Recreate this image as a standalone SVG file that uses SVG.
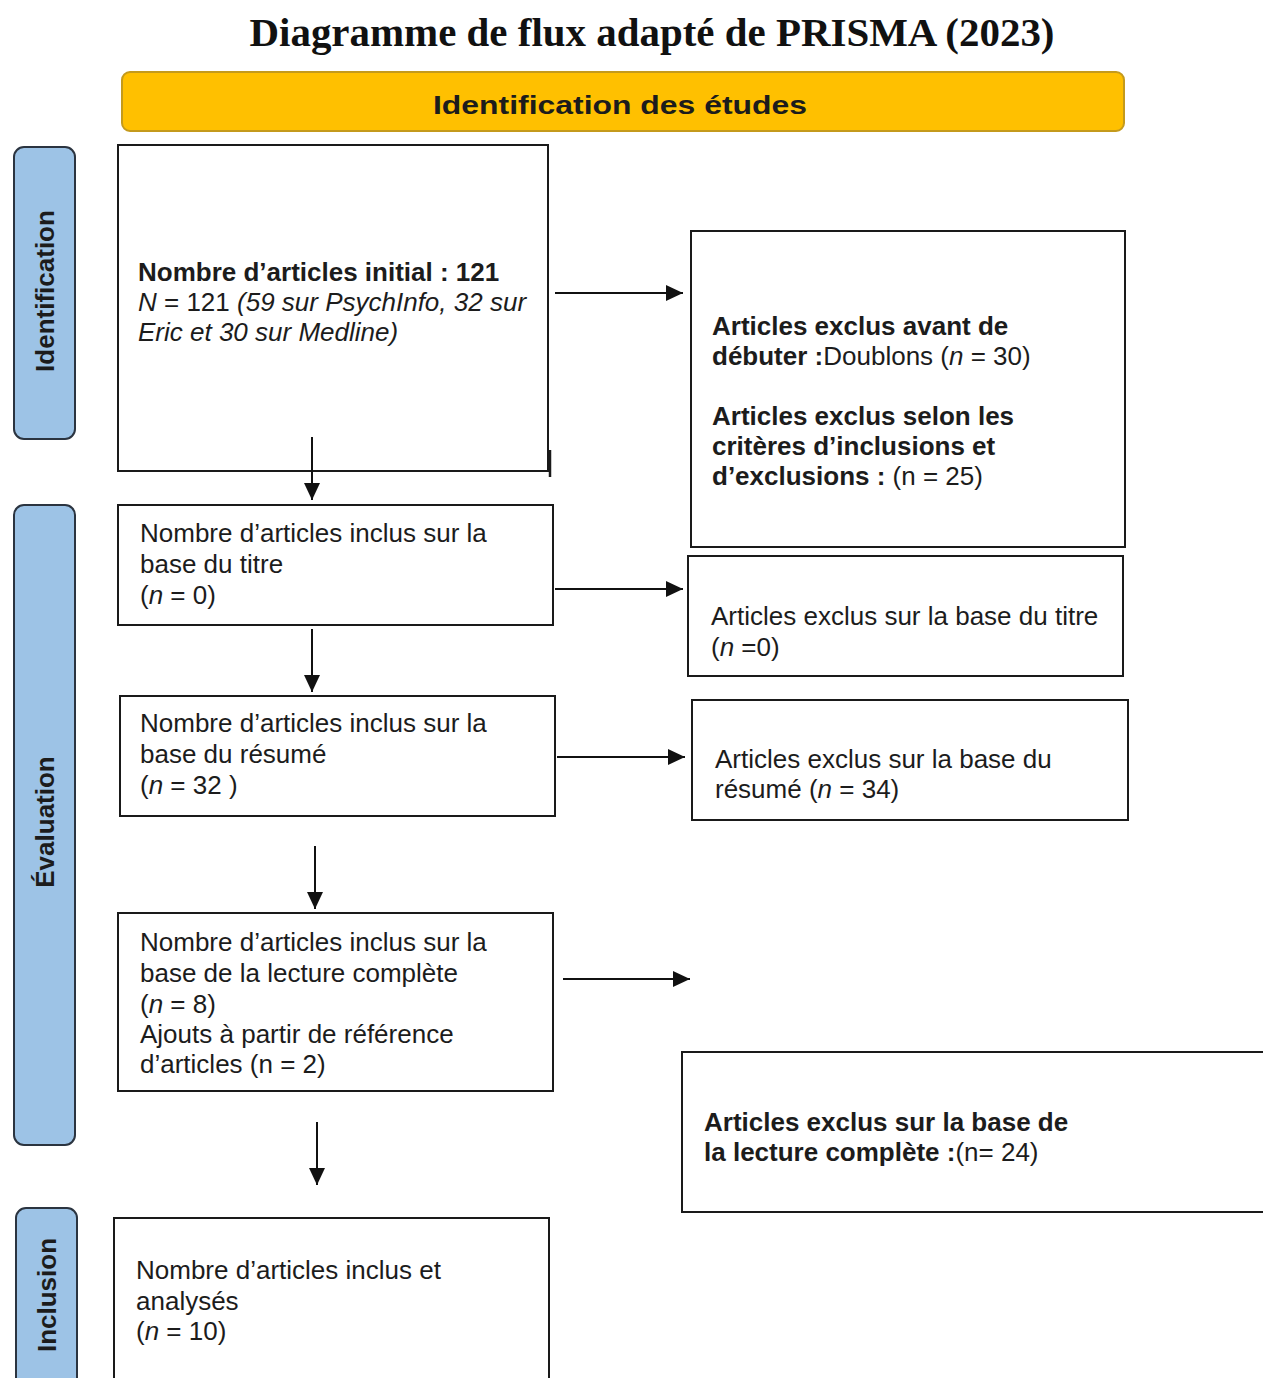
<svg xmlns="http://www.w3.org/2000/svg" width="1263" height="1378" viewBox="0 0 1263 1378">
<style>
  .t{font-family:"Liberation Sans",Arial,sans-serif;font-size:26px;fill:#1c1c1c}
  .b{font-weight:bold}
  .i{font-style:italic}
  .box{fill:#fff;stroke:#1a1a1a;stroke-width:2}
  .side{fill:#9DC3E6;stroke:#2b3440;stroke-width:2}
  .sidet{font-family:"Liberation Sans",Arial,sans-serif;font-size:26px;font-weight:bold;fill:#1c1c1c;text-anchor:middle}
  .conn line{stroke:#111;stroke-width:2;marker-end:url(#ah)}
</style>
<defs>
  <marker id="ah" markerUnits="userSpaceOnUse" markerWidth="18" markerHeight="16" refX="17" refY="8" orient="auto">
    <path d="M0,0 L17,8 L0,16 z" fill="#111"/>
  </marker>
</defs>
<rect width="1263" height="1378" fill="#fff"/>

<g id="title">
  <text x="652" y="46" text-anchor="middle" font-family="'Liberation Serif','Times New Roman',serif" font-weight="bold" font-size="40" fill="#111" textLength="805" lengthAdjust="spacingAndGlyphs">Diagramme de flux adapté de PRISMA (2023)</text>
</g>

<g id="banner">
  <rect x="122" y="72" width="1002" height="59" rx="8" fill="#FFC000" stroke="#C49A1C" stroke-width="2"/>
  <text x="620" y="114" text-anchor="middle" class="t b" font-size="28" fill="#111" textLength="374" lengthAdjust="spacingAndGlyphs">Identification des études</text>
</g>

<g id="lbl-identification">
  <rect class="side" x="14" y="147" width="61" height="292" rx="10"/>
  <text class="sidet" transform="translate(54,291) rotate(-90)">Identification</text>
</g>
<g id="lbl-evaluation">
  <rect class="side" x="14" y="505" width="61" height="640" rx="10"/>
  <text class="sidet" transform="translate(54,822) rotate(-90)">Évaluation</text>
</g>
<g id="lbl-inclusion">
  <rect class="side" x="16" y="1208" width="61" height="190" rx="10"/>
  <text class="sidet" transform="translate(56,1295) rotate(-90)">Inclusion</text>
</g>

<g id="box-initial">
  <rect class="box" x="118" y="145" width="430" height="326"/>
  <line x1="550" y1="450" x2="550" y2="477" stroke="#1a1a1a" stroke-width="2.5"/>
  <text class="t b" x="138" y="281">Nombre d’articles initial : 121</text>
  <text class="t" x="138" y="311"><tspan class="i">N</tspan> = 121 <tspan class="i">(59 sur PsychInfo, 32 sur</tspan></text>
  <text class="t i" x="138" y="341">Eric et 30 sur Medline)</text>
</g>

<g id="box-exclus-avant">
  <rect class="box" x="691" y="231" width="434" height="316"/>
  <text class="t b" x="712" y="335">Articles exclus avant de</text>
  <text class="t" x="712" y="365"><tspan class="b">débuter :</tspan>Doublons (<tspan class="i">n</tspan> = 30)</text>
  <text class="t b" x="712" y="425">Articles exclus selon les</text>
  <text class="t b" x="712" y="455">critères d’inclusions et</text>
  <text class="t" x="712" y="485"><tspan class="b">d’exclusions : </tspan>(n = 25)</text>
</g>

<g id="box-titre">
  <rect class="box" x="118" y="505" width="435" height="120"/>
  <text class="t" x="140" y="542">Nombre d’articles inclus sur la</text>
  <text class="t" x="140" y="573">base du titre</text>
  <text class="t" x="140" y="604">(<tspan class="i">n</tspan> = 0)</text>
</g>

<g id="box-exclus-titre">
  <rect class="box" x="688" y="556" width="435" height="120"/>
  <text class="t" x="711" y="625">Articles exclus sur la base du titre</text>
  <text class="t" x="711" y="656">(<tspan class="i">n</tspan> =0)</text>
</g>

<g id="box-resume">
  <rect class="box" x="120" y="696" width="435" height="120"/>
  <text class="t" x="140" y="732">Nombre d’articles inclus sur la</text>
  <text class="t" x="140" y="763">base du résumé</text>
  <text class="t" x="140" y="794">(<tspan class="i">n</tspan> = 32 )</text>
</g>

<g id="box-exclus-resume">
  <rect class="box" x="692" y="700" width="436" height="120"/>
  <text class="t" x="715" y="768">Articles exclus sur la base du</text>
  <text class="t" x="715" y="798">résumé (<tspan class="i">n</tspan> = 34)</text>
</g>

<g id="box-lecture">
  <rect class="box" x="118" y="913" width="435" height="178"/>
  <text class="t" x="140" y="951">Nombre d’articles inclus sur la</text>
  <text class="t" x="140" y="982">base de la lecture complète</text>
  <text class="t" x="140" y="1013">(<tspan class="i">n</tspan> = 8)</text>
  <text class="t" x="140" y="1043">Ajouts à partir de référence</text>
  <text class="t" x="140" y="1073">d’articles (n = 2)</text>
</g>

<g id="box-exclus-lecture">
  <path class="box" d="M1270,1052 H682 V1212 H1270"/>
  <text class="t b" x="704" y="1131">Articles exclus sur la base de</text>
  <text class="t" x="704" y="1161"><tspan class="b">la lecture complète :</tspan>(n= 24)</text>
</g>

<g id="box-inclus">
  <path class="box" d="M114,1390 V1218 H549 V1390"/>
  <text class="t" x="136" y="1279">Nombre d’articles inclus et</text>
  <text class="t" x="136" y="1310">analysés</text>
  <text class="t" x="136" y="1340">(<tspan class="i">n</tspan> = 10)</text>
</g>

<g id="connectors" class="conn">
  <line x1="555" y1="293" x2="683" y2="293"/>
  <line x1="555" y1="589" x2="683" y2="589"/>
  <line x1="557" y1="757" x2="685" y2="757"/>
  <line x1="563" y1="979" x2="690" y2="979"/>
  <line x1="312" y1="437" x2="312" y2="500"/>
  <line x1="312" y1="629" x2="312" y2="692"/>
  <line x1="315" y1="846" x2="315" y2="909"/>
  <line x1="317" y1="1122" x2="317" y2="1185"/>
</g>
</svg>
